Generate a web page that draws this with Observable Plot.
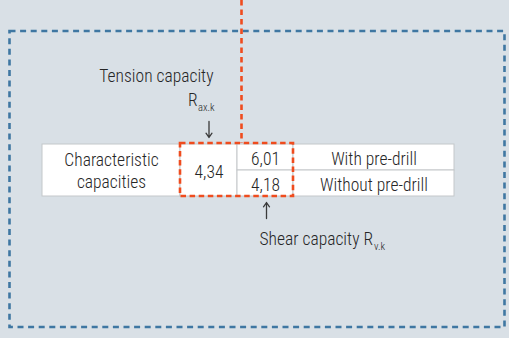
<!DOCTYPE html>
<html><head><meta charset="utf-8">
<script src="https://cdn.jsdelivr.net/npm/d3@7"></script>
<script src="https://cdn.jsdelivr.net/npm/@observablehq/plot@0.6"></script>
<style>html,body{margin:0;padding:0;background:#d9e0e6;overflow:hidden}</style>
</head><body><div id="chart"></div>
<script>
// ---- data ----
const rowLabel = ["Characteristic", "capacities"];
const tensionCapacity = [4.34];
const shearCapacities = [6.01, 4.18];
const drillConditions = ["With pre-drill", "Without pre-drill"];
const tensionLabel = ["Tension capacity", "R", "ax.k"];
const shearLabel = ["Shear capacity R", "v.k"];

// ---- layout ----
const W = 509, H = 338;
const colEdges = [42, 180, 237, 293, 454];
const rowEdges = [144, 170, 196];
const FONT = "'Roboto Condensed',Roboto,sans-serif";
const FS = 17.5, SUB = 10.5, WEIGHT = 300;
const ink = "#262626", orange = "#ef4c1e", blue = "#3f77a2", grid = "#c4c7ca";
const fmt = v => v.toFixed(2).replace(".", ",");

// measure text width to place subscripts right after their base text
const ctx = document.createElement("canvas").getContext("2d");
const measure = (t, size) => { ctx.font = `${WEIGHT} ${size}px ${FONT}`; return ctx.measureText(t).width; };

const cells = [
  {x1: colEdges[0], x2: colEdges[1], y1: rowEdges[0], y2: rowEdges[2]},
  {x1: colEdges[1], x2: colEdges[2], y1: rowEdges[0], y2: rowEdges[2]},
  ...shearCapacities.map((_, i) => ({x1: colEdges[2], x2: colEdges[3], y1: rowEdges[i], y2: rowEdges[i + 1]})),
  ...drillConditions.map((_, i) => ({x1: colEdges[3], x2: colEdges[4], y1: rowEdges[i], y2: rowEdges[i + 1]}))
];
const mid = (a, b) => (a + b) / 2;
const base = i => rowEdges[i + 1] - 6;

const centered = [
  {x: mid(colEdges[0], colEdges[1]), y: 187, t: rowLabel.join("\n")},
  {x: mid(colEdges[1], colEdges[2]), y: 177, t: fmt(tensionCapacity[0])},
  ...shearCapacities.map((v, i) => ({x: mid(colEdges[2], colEdges[3]), y: base(i), t: fmt(v)})),
  ...drillConditions.map((v, i) => ({x: mid(colEdges[3], colEdges[4]), y: base(i), t: v}))
];
const ended = [
  {x: 213, y: 81, t: tensionLabel[0]},
  {x: 197, y: 105, t: tensionLabel[1]}
];
const shearX = 259;
const started = [
  {x: shearX, y: 244, t: shearLabel[0]}
];
const subs = [
  {x: 197.5, y: 110, t: tensionLabel[2]},
  {x: shearX + measure(shearLabel[0], FS) + 1, y: 249, t: shearLabel[1]}
];
const pointers = [
  {x: mid(colEdges[1], colEdges[2]), y1: 121, y2: 137},
  {x: mid(colEdges[2], colEdges[3]) + 1, y1: 218, y2: 202}
];
const common = {x: "x", y: "y", text: "t", lineAnchor: "bottom", fill: ink, fontFamily: FONT, fontWeight: WEIGHT};

const chart = Plot.plot({
  width: W, height: H, margin: 0,
  style: {background: "#d9e0e6", fontFamily: FONT},
  x: {domain: [0, W], range: [0, W], axis: null},
  y: {domain: [0, H], range: [0, H], axis: null},
  marks: [
    Plot.rect([{x1: 9.5, x2: 504.5, y1: 31, y2: 327}], {x1: "x1", x2: "x2", y1: "y1", y2: "y2", fill: "none", stroke: blue, strokeWidth: 2.6, strokeDasharray: "6,4.6"}),
    Plot.ruleX([241], {y1: 0, y2: 143, stroke: orange, strokeWidth: 2.6, strokeDasharray: "5.5,4"}),
    Plot.rect(cells, {x1: "x1", x2: "x2", y1: "y1", y2: "y2", fill: "white", stroke: grid, strokeWidth: 1}),
    Plot.rect([{x1: 180, x2: 293, y1: 143, y2: 196}], {x1: "x1", x2: "x2", y1: "y1", y2: "y2", fill: "none", stroke: orange, strokeWidth: 2.6, strokeDasharray: "5.5,3.6"}),
    Plot.arrow(pointers, {x: "x", y1: "y1", y2: "y2", stroke: "#3a3a3a", strokeWidth: 1.3, headLength: 6, headAngle: 70}),
    Plot.text(centered, {...common, textAnchor: "middle", lineHeight: 1.25, fontSize: FS}),
    Plot.text(ended, {...common, textAnchor: "end", fontSize: FS}),
    Plot.text(started, {...common, textAnchor: "start", fontSize: FS}),
    Plot.text(subs, {...common, textAnchor: "start", fontSize: SUB})
  ]
});
document.getElementById("chart").append(chart);
</script>
</body></html>
